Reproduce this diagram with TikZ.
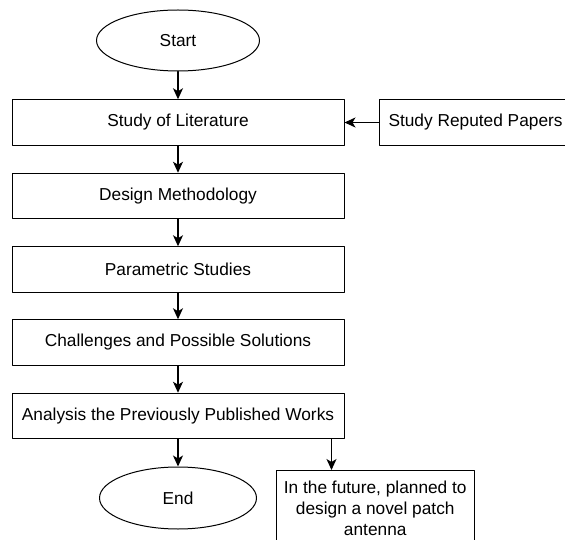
\documentclass[tikz,border=0pt]{standalone}
\usepackage{fontspec}
\setmainfont{Liberation Sans}
\usetikzlibrary{shapes.geometric,arrows.meta}
\tikzset{
	stepbox/.style={draw,line width=1pt,minimum width=332pt,minimum height=45.5pt,inner sep=0pt},
	endbox/.style={draw,ellipse,line width=1pt,inner sep=0pt}
}
\begin{document}
\begin{tikzpicture}[>={Stealth[length=11pt,width=10pt,inset=3pt]},line join=round,line cap=round,x=1pt,y=-1pt,font=\fontsize{17.3}{21}\selectfont]
				\useasboundingbox (0,0) rectangle (565,540);
				\node[endbox,minimum width=163pt,minimum height=61pt] (start) at (178,40.5) {Start};
				\node[stepbox] (lit) at (178,122.5) {Study of Literature};
				\node[draw,line width=1pt,minimum height=45.5pt,inner xsep=9pt,anchor=west] (rep) at (379,122.5) {Study Reputed Papers};
				\node[stepbox] (dm) at (178,196) {Design Methodology};
				\node[stepbox] (ps) at (178,269.5) {Parametric Studies};
				\node[stepbox] (cp) at (178,342.5) {Challenges and Possible Solutions};
				\node[stepbox] (ap) at (178,416) {Analysis the Previously Published Works};
				\node[endbox,minimum width=157pt,minimum height=62pt] (end) at (178,498) {End};
				\node[draw,line width=1pt,align=center,minimum width=198.5pt,inner ysep=10pt,anchor=north west] (fut) at (275.5,470) {In the future, planned to\\design a novel patch\\antenna};
				\draw[->,line width=1.3pt] (start) -- (lit);
				\draw[->,line width=1.3pt] (rep) -- (lit);
				\draw[->,line width=1.3pt] (lit) -- (dm);
				\draw[->,line width=1.3pt] (dm) -- (ps);
				\draw[->,line width=1.3pt] (ps) -- (cp);
				\draw[->,line width=1.3pt] (cp) -- (ap);
				\draw[->,line width=1.3pt] (ap) -- (end);
				\draw[->,line width=1.3pt] ([xshift=-13pt]ap.south east) -- ([xshift=-13pt]ap.south east |- fut.north);
			\end{tikzpicture}
\end{document}
